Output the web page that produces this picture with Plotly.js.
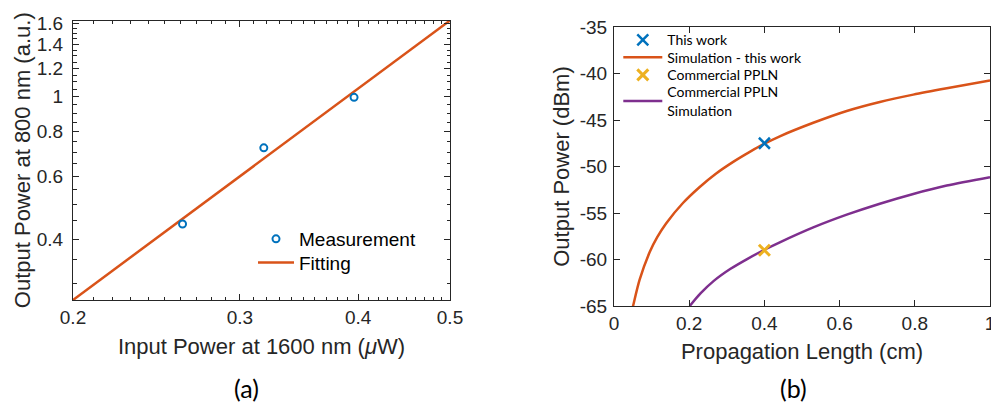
<!DOCTYPE html>
<html>
<head>
<meta charset="utf-8">
<script src="https://cdn.plot.ly/plotly-3.0.1.min.js"></script>
<style>html,body{margin:0;padding:0;background:#fff;}#chart{width:991px;height:406px;}</style>
</head>
<body>
<div id="chart"></div>
<script>
// ---- Panel (a) data ----
const measX = [0.261, 0.318, 0.396];
const measY = [0.441, 0.72, 0.996];
const fitX = [0.2, 0.5];
const fitY = [0.2705, 1.633];
const aXTicks = [0.2, 0.3, 0.4, 0.5];
const aXTickText = ['0.2', '0.3', '0.4', '0.5'];
const aYTicks = [0.4, 0.6, 0.8, 1, 1.2, 1.4, 1.6];
const aYTickText = ['0.4', '0.6', '0.8', '1', '1.2', '1.4', '1.6'];
const aXMinor = [0.21,0.22,0.23,0.24,0.25,0.26,0.27,0.28,0.29,0.31,0.32,0.33,0.34,0.35,0.36,0.37,0.38,0.39,0.41,0.42,0.43,0.44,0.45,0.46,0.47,0.48,0.49];
const aYMinor = [0.3,0.35,0.45,0.5,0.55,0.65,0.7,0.75,0.85,0.9,0.95,1.05,1.1,1.15,1.25,1.3,1.35,1.45,1.5,1.55];

// ---- Panel (b) data ----
const simThisX = [0.048, 0.0506, 0.068, 0.095, 0.115, 0.139, 0.184, 0.228, 0.27, 0.317, 0.36, 0.400, 0.441, 0.530, 0.619, 0.707, 0.796, 0.885, 1.0];
const simThisY = [-65.4, -65.0, -62.2, -59.2, -57.6, -56.1, -53.9, -52.2, -50.8, -49.5, -48.45, -47.55, -46.75, -45.3, -44.03, -43.06, -42.27, -41.59, -40.76];
const simCommX = [0.2015, 0.230, 0.2654, 0.310, 0.354, 0.400, 0.441, 0.530, 0.619, 0.707, 0.796, 0.885, 1.0];
const simCommY = [-65.0, -63.65, -62.3, -61.0, -59.95, -58.95, -58.15, -56.55, -55.18, -54.0, -52.95, -52.05, -51.15];
const thisWorkX = [0.4];
const thisWorkY = [-47.5];
const commX = [0.4];
const commY = [-59.0];
const bXTicks = [0, 0.2, 0.4, 0.6, 0.8, 1];
const bXTickText = ['0', '0.2', '0.4', '0.6', '0.8', '1'];
const bYTicks = [-65, -60, -55, -50, -45, -40, -35];
const bYTickText = ['-65', '-60', '-55', '-50', '-45', '-40', '-35'];

const AX = '#262626';
const tickFont = {family: 'Liberation Sans, Arial, sans-serif', size: 19, color: AX};
const titleFont = {family: 'Liberation Sans, Arial, sans-serif', size: 22, color: AX};

const traces = [
  {x: fitX, y: fitY, xaxis: 'x', yaxis: 'y', mode: 'lines', name: 'Fitting',
   line: {color: '#D95319', width: 2.5}, legend: 'legend3'},
  {x: measX, y: measY, xaxis: 'x', yaxis: 'y', mode: 'markers', name: 'Measurement',
   marker: {symbol: 'circle-open', size: 7, color: '#0072BD', line: {width: 2, color: '#0072BD'}},
   legend: 'legend'},
  {x: simThisX, y: simThisY, xaxis: 'x2', yaxis: 'y2', mode: 'lines', name: 'Simulation - this work',
   line: {color: '#D95319', width: 2.5, shape: 'spline', smoothing: 0.8}, legend: 'legend4'},
  {x: simCommX, y: simCommY, xaxis: 'x2', yaxis: 'y2', mode: 'lines', name: 'Commercial PPLN<br>Simulation',
   line: {color: '#7E2F8E', width: 2.5, shape: 'spline', smoothing: 0.8}, legend: 'legend6'},
  {x: thisWorkX, y: thisWorkY, xaxis: 'x2', yaxis: 'y2', mode: 'markers', name: 'This work',
   marker: {symbol: 'x-thin-open', size: 11, color: '#0072BD', line: {width: 2.5, color: '#0072BD'}},
   legend: 'legend2'},
  {x: commX, y: commY, xaxis: 'x2', yaxis: 'y2', mode: 'markers', name: 'Commercial PPLN',
   marker: {symbol: 'x-thin-open', size: 11, color: '#EDB120', line: {width: 3, color: '#EDB120'}},
   legend: 'legend5'}
];

const common = {
  showline: true, linecolor: AX, linewidth: 1, mirror: 'ticks',
  ticks: 'inside', ticklen: 6, tickwidth: 1, tickcolor: AX,
  showgrid: false, zeroline: false, tickfont: tickFont
};

function leg(xpx, toppx, size, fam, iw) {
  return {
    x: xpx/991, y: 1 - toppx/406, xanchor: 'left', yanchor: 'top',
    bgcolor: 'rgba(0,0,0,0)', borderwidth: 0, itemwidth: iw,
    font: {family: fam, size: size, color: '#000'}
  };
}
const legA = 'Liberation Sans, Arial, sans-serif';
const legB = 'Lato, sans-serif';

const layout = {
  width: 991, height: 406,
  margin: {l: 0, r: 0, t: 0, b: 0},
  paper_bgcolor: '#fff', plot_bgcolor: '#fff',
  showlegend: true,
  xaxis: Object.assign({}, common, {
    type: 'log', domain: [73/991, 450/991], anchor: 'y',
    range: [Math.log10(0.2), Math.log10(0.5)],
    tickmode: 'array', tickvals: aXTicks, ticktext: aXTickText,
    minor: {tickmode: 'array', tickvals: aXMinor, ticks: 'inside', ticklen: 3.5, tickcolor: AX, showgrid: false},
    ticklabelstandoff: 2.5,
    title: {text: 'Input Power at 1600 nm (<i>μ</i>W)', font: titleFont, standoff: 11}
  }),
  yaxis: Object.assign({}, common, {
    type: 'log', domain: [1 - 300/406, 1 - 20.5/406], anchor: 'x',
    range: [Math.log10(0.2705), Math.log10(1.633)],
    tickmode: 'array', tickvals: aYTicks, ticktext: aYTickText,
    minor: {tickmode: 'array', tickvals: aYMinor, ticks: 'inside', ticklen: 3.5, tickcolor: AX, showgrid: false},
    ticklabelstandoff: 5,
    title: {text: 'Output Power at 800 nm (a.u.)', font: titleFont, standoff: 0}
  }),
  xaxis2: Object.assign({}, common, {
    domain: [614/991, 990/991], anchor: 'y2', range: [0, 1],
    tickmode: 'array', tickvals: bXTicks, ticktext: bXTickText,
    ticklabelstandoff: 2.5, ticklabeloverflow: 'allow',
    title: {text: 'Propagation Length (cm)', font: titleFont, standoff: 10}
  }),
  yaxis2: Object.assign({}, common, {
    domain: [1 - 306/406, 1 - 27/406], anchor: 'x2', range: [-65, -35],
    tickmode: 'array', tickvals: bYTicks, ticktext: bYTickText,
    ticklabelstandoff: 2,
    title: {text: 'Output Power (dBm)', font: titleFont, standoff: 4}
  }),
  legend: leg(253, 220, 19, legA, 36),
  legend3: leg(253, 243.7, 19, legA, 36),
  legend2: leg(618.3, 24.3, 14, legB, 39),
  legend4: leg(618.3, 41.6, 14, legB, 39),
  legend5: leg(618.3, 59.3, 14, legB, 39),
  legend6: leg(618.3, 76.3, 14, legB, 39),
  annotations: [
    {text: '(a)', xref: 'paper', yref: 'paper', x: 246.7/991, y: 1 - 388/406,
     xanchor: 'center', yanchor: 'middle', showarrow: false,
     font: {family: 'Lato, sans-serif', size: 25, color: '#000'}},
    {text: '(b)', xref: 'paper', yref: 'paper', x: 793/991, y: 1 - 388/406,
     xanchor: 'center', yanchor: 'middle', showarrow: false,
     font: {family: 'Lato, sans-serif', size: 25, color: '#000'}}
  ]
};

Plotly.newPlot('chart', traces, layout, {staticPlot: true, displayModeBar: false});
</script>
</body>
</html>
